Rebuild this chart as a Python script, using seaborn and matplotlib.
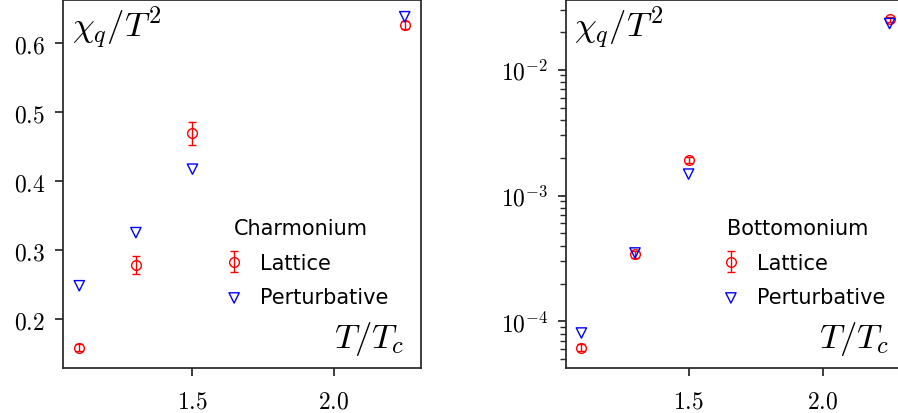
import numpy as np
import pandas as pd
import matplotlib
matplotlib.use('Agg')
import matplotlib.pyplot as plt
import seaborn as sns

# data
T_ratio = [1.1, 1.3, 1.5, 2.25]

charm_lattice = [0.158, 0.278, 0.469, 0.626]
charm_lattice_err = [0.005, 0.013, 0.017, 0.006]
charm_pert = [0.248, 0.325, 0.417, 0.638]

bottom_lattice = [6.2e-5, 3.42e-4, 1.91e-3, 0.0251]
bottom_lattice_err = [0.4e-5, 0.2e-4, 0.1e-3, 0.0012]
bottom_pert = [8.1e-5, 3.5e-4, 1.48e-3, 0.0232]

x_ticks = [1.5, 2.0]
x_ticklabels = ['$1.5$', '$2.0$']
y_ticks_charm = [0.2, 0.3, 0.4, 0.5, 0.6]
y_ticklabels_charm = ['$0.2$', '$0.3$', '$0.4$', '$0.5$', '$0.6$']
y_ticks_bottom = [1e-4, 1e-3, 1e-2]
y_ticklabels_bottom = ['$10^{-4}$', '$10^{-3}$', '$10^{-2}$']

RED = '#ff0000'
BLUE = '#0000ff'

sns.set_theme(style='ticks')
plt.rcParams['font.family'] = ['DejaVu Sans']
plt.rcParams['mathtext.fontset'] = 'cm'
plt.rcParams['text.color'] = 'black'
plt.rcParams['xtick.labelcolor'] = 'black'
plt.rcParams['ytick.labelcolor'] = 'black'

fig = plt.figure(figsize=(8.98, 4.14), dpi=100)
ax1 = fig.add_axes([63 / 898, 45 / 414, 358 / 898, 368 / 414])
ax2 = fig.add_axes([566 / 898, 45 / 414, 339 / 898, 368 / 414])


def draw_panel(ax, lat, lat_err, pert, title, leg_x):
    ax.errorbar(T_ratio, lat, yerr=lat_err, fmt='o', mfc='none', mec=RED,
                ecolor=RED, color=RED, ms=7, capsize=3, elinewidth=1,
                label='Lattice', zorder=3)
    df = pd.DataFrame({'T': T_ratio, 'chi': pert})
    sns.scatterplot(data=df, x='T', y='chi', ax=ax, marker='v', s=55,
                    facecolor='none', edgecolor=BLUE, linewidth=1,
                    label='Perturbative', zorder=4)
    ax.set_xlabel('')
    ax.set_ylabel('')
    ax.set_xticks(x_ticks)
    ax.set_xticklabels(x_ticklabels)
    ax.tick_params(labelsize=17)
    ax.tick_params(axis='x', pad=8.5)
    ax.tick_params(axis='y', pad=7)
    ax.text(0.025, 0.99, r'$\chi_q/T^2$', transform=ax.transAxes,
            fontsize=25, va='top', ha='left')
    ax.text(0.955, 0.03, r'$T/T_c$', transform=ax.transAxes,
            fontsize=25, va='bottom', ha='right')
    handles, labels = ax.get_legend_handles_labels()
    order = [labels.index('Lattice'), labels.index('Perturbative')]
    ax.legend([handles[i] for i in order], [labels[i] for i in order],
              title=title, frameon=False, loc='lower right',
              bbox_to_anchor=(leg_x, 0.125), fontsize=15,
              title_fontsize=15, handletextpad=0.25, borderpad=0.2,
              labelspacing=0.7)


draw_panel(ax1, charm_lattice, charm_lattice_err, charm_pert,
           'Charmonium', 0.95)
ax1.set_yticks(y_ticks_charm)
ax1.set_yticklabels(y_ticklabels_charm)

ax2.set_yscale('log')
draw_panel(ax2, bottom_lattice, bottom_lattice_err, bottom_pert,
           'Bottomonium', 0.985)
ax2.set_yticks(y_ticks_bottom)
ax2.set_yticklabels(y_ticklabels_bottom)
ax2.set_xlim(ax1.get_xlim())

fig.savefig('out.png', dpi=100)
